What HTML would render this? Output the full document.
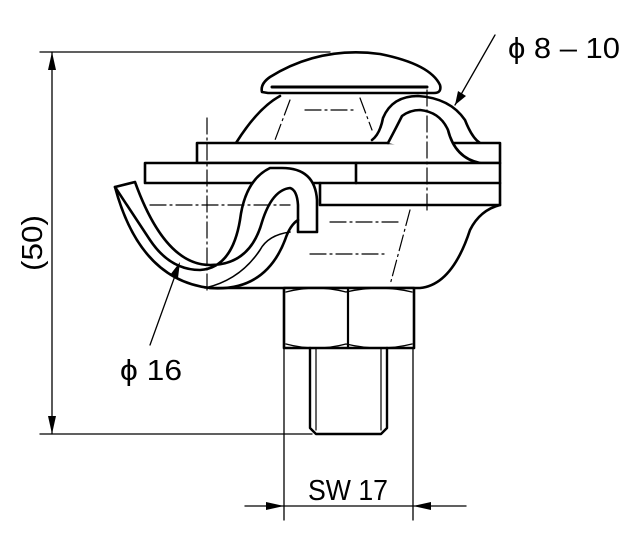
<!DOCTYPE html>
<html><head><style>html,body{margin:0;padding:0;background:#fff}svg{display:block}</style></head>
<body>
<svg width="640" height="536" viewBox="0 0 640 536" xmlns="http://www.w3.org/2000/svg" font-family="'Liberation Sans Narrow', 'Liberation Sans', sans-serif">
<g fill="none" stroke="#000" stroke-linecap="round" stroke-linejoin="round">
<g stroke-width="1.3">
<line x1="40" y1="52" x2="330" y2="52"/>
<line x1="40" y1="434" x2="312" y2="434"/>
<line x1="52" y1="52" x2="52" y2="434"/>
<line x1="284" y1="348" x2="284" y2="520"/>
<line x1="413" y1="348" x2="413" y2="520"/>
<line x1="245" y1="506" x2="466" y2="506"/>
<line x1="495" y1="35" x2="455" y2="105"/>
<line x1="150" y1="345" x2="180" y2="262"/>
</g>
<path d="M262 92 Q260 84 270 77 Q320 46 380 54 Q430 64 440 85 Q442 93 434 93 L268 93 Z" stroke-width="2.6"/>
<line x1="272" y1="87" x2="427" y2="87" stroke-width="3"/>
<path d="M236 143 Q258 108 280 96" stroke-width="2.6"/>
<path d="M372 140 Q380 134 383 118 Q392 96 418 96 Q450 98 465 120 Q472 138 480 143" stroke-width="2.6"/>
<rect x="197" y="143" width="303" height="20" stroke-width="2.6" fill="#fff"/>
<path d="M388 143 Q396 128 402 116 Q410 110 420 110 Q440 112 448 130 Q455 158 480 163" stroke-width="2.6" fill="#fff"/>
<rect x="145" y="163" width="355" height="20" stroke-width="2.6" fill="#fff"/>
<line x1="356" y1="163" x2="356" y2="183" stroke-width="2.6"/>
<path d="M320 183 L320 205 L500 205 L500 183" stroke-width="2.6"/>
<path d="M500 205 Q480 210 470 230 Q452 285 420 288 L210 288" stroke-width="2.6"/>
<path d="M205 288 Q240 280 260 250 Q268 235 290 232" stroke-width="1.6"/>
<path d="M115 187 L135 182 Q165 265 210 265 Q250 265 262 222 Q272 190 290 188 Q297 190 298 205 L298 232 L317 232 L317 200 Q315 168 282 168 L270 168 Q245 180 240 220 Q232 268 200 270 Q170 270 150 240 Z" stroke-width="2.6" fill="#fff"/>
<path d="M115 187 Q140 280 210 288 Q265 292 285 240 Q290 225 298 220" stroke-width="2.6"/>
<g stroke-width="1.2" stroke-dasharray="16 4 2 4">
<line x1="207" y1="118" x2="207" y2="292"/>
<line x1="427" y1="90" x2="427" y2="210"/>
<line x1="150" y1="205" x2="290" y2="205"/>
<line x1="330" y1="222" x2="400" y2="222"/>
<line x1="310" y1="254" x2="385" y2="254"/>
<line x1="305" y1="110" x2="355" y2="110"/>
<line x1="290" y1="100" x2="275" y2="140"/>
<line x1="360" y1="98" x2="372" y2="130"/>
<line x1="410" y1="210" x2="390" y2="285"/>
</g>
<rect x="284" y="288" width="130" height="60" stroke-width="2.6" fill="#fff"/>
<line x1="348" y1="288" x2="348" y2="348" stroke-width="2.2"/>
<path d="M286 292 Q316 284 346 292 Q380 284 412 292" stroke-width="1.4"/>
<path d="M286 344 Q316 352 346 344 Q380 352 412 344" stroke-width="1.4"/>
<path d="M310 348 L310 428 L316 434 L381 434 L387 428 L387 348" stroke-width="2.4"/>
<line x1="316" y1="348" x2="316" y2="430" stroke-width="1.2"/>
<line x1="381" y1="348" x2="381" y2="430" stroke-width="1.2"/>
</g>
<g fill="#000">
<polygon points="52,52 48,70 56,70"/>
<polygon points="52,434 48,416 56,416"/>
<polygon points="284,506 266,502 266,510"/>
<polygon points="413,506 431,502 431,510"/>
<polygon points="455,105 458,91 466,96"/>
<polygon points="180,262 170,275 178,278"/>
</g>
<g fill="#000" font-size="29">
<text x="308" y="500" textLength="80" lengthAdjust="spacingAndGlyphs">SW  17</text>
<text x="120" y="380" textLength="62" lengthAdjust="spacingAndGlyphs">ϕ 16</text>
<text x="508" y="58" textLength="112" lengthAdjust="spacingAndGlyphs">ϕ 8 – 10</text>
<text transform="translate(42,243) rotate(-90)" text-anchor="middle" textLength="56" lengthAdjust="spacingAndGlyphs">(50)</text>
</g>
</svg>
</body></html>
